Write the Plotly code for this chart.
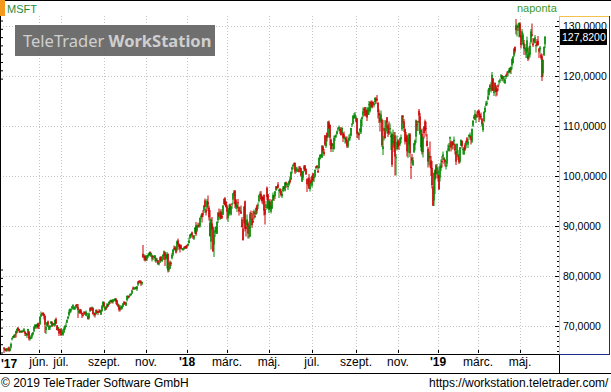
import plotly.graph_objects as go
import pandas as pd

# ---------------- data (MSFT daily, Apr 11 2017 - Jun 6 2019) ----------------
HOLIDAYS = ["2017-04-14", "2017-05-29", "2017-07-04", "2017-09-04", "2017-11-23", "2017-12-25",
            "2018-01-01", "2018-01-15", "2018-02-19", "2018-03-30", "2018-05-28", "2018-07-04",
            "2018-09-03", "2018-11-22", "2018-12-05", "2018-12-25", "2019-01-01", "2019-01-21",
            "2019-02-18", "2019-04-19", "2019-05-27"]

open_ = [
    65.6, 65.4, 65.3, 65.0, 65.3, 65.7, 65.1, 65.7, 67.4, 67.7, 68.1, 68.1, 68.9,
    68.7, 69.7, 69.4, 69.0, 68.9, 69.0, 68.9, 68.9, 68.9, 68.6, 68.1, 68.2, 68.9, 67.4, 67.5, 67.9, 68.4, 68.9, 69.8, 70.2, 69.8, 70.5,
    70.2, 70.4, 71.9, 72.3, 72.6, 72.4, 72.0, 69.2, 70.0, 70.9, 69.3, 69.7, 70.5, 70.8, 70.2, 70.5, 70.1, 71.4, 70.1, 69.2, 69.4, 68.8,
    69.3, 68.3, 68.3, 68.7, 69.5, 69.9, 70.7, 71.5, 72.2, 72.8, 73.1, 73.5, 74.0, 73.5, 73.5, 73.8, 74.3, 73.8, 72.7, 73.3,
    73.1, 72.6, 72.2, 72.4, 72.8, 72.1, 72.3, 72.0, 71.6, 73.0, 73.6, 73.3, 73.6, 72.3, 72.5, 72.4, 72.9, 72.9, 72.9, 73.1, 72.3, 73.0, 74.1,
    74.7, 73.3, 73.7, 73.7, 74.3, 74.3, 74.9, 74.9, 75.0, 74.8, 75.1, 75.2, 75.4, 75.1, 73.9, 74.1, 73.6, 73.6, 73.5, 73.9,
    74.7, 74.7, 74.1, 75.2, 75.7, 75.9, 76.1, 76.2, 76.5, 77.6, 77.4, 77.5, 77.7, 77.4, 78.3, 79.0, 79.0, 78.8, 78.5, 84.4, 83.7, 84.0,
    83.7, 83.4, 83.9, 84.2, 84.8, 84.1, 83.5, 84.0, 83.7, 83.5, 83.5, 83.1, 83.1, 82.4, 82.7, 83.8, 83.0, 83.3, 84.1, 84.7, 83.5,
    83.6, 84.4, 81.3, 81.5, 82.6, 83.6, 84.3, 85.3, 85.7, 85.4, 85.3, 87.1, 86.4, 86.2, 86.1, 85.4, 85.3, 85.4, 85.9, 86.0,
    86.1, 86.1, 86.6, 87.7, 88.1, 88.7, 87.9, 87.5, 88.7, 90.1, 89.1, 89.8, 90.1, 90.0, 91.8, 92.5, 92.5, 93.1, 95.1, 93.3, 93.8,
    94.8, 93.6, 90.6, 86.9, 90.5, 89.7, 86.3, 88.7, 88.9, 88.5, 91.2, 92.5, 91.5, 92.9, 92.0, 92.3, 94.4, 95.5, 94.8,
    93.9, 91.6, 92.3, 94.3, 92.3, 94.3, 95.3, 96.5, 97.0, 95.1, 93.5, 94.7, 93.7, 93.0, 92.9, 91.3, 89.5, 90.6, 94.9, 89.8, 90.2,
    90.5, 89.6, 87.9, 92.5, 91.5, 91.0, 92.4, 92.0, 92.4, 94.1, 94.1, 95.0, 96.2, 96.4, 95.9, 95.6, 96.2, 93.3, 93.6, 97.6, 96.3,
    93.2, 94.8, 92.9, 93.5, 95.2, 95.9, 96.0, 97.2, 97.8, 98.3, 97.0, 97.4, 97.0, 96.0, 97.0, 97.9, 97.1, 98.7, 98.3, 97.8, 98.3, 99.3,
    99.3, 101.3, 102.0, 102.3, 102.6, 101.1, 101.0, 101.1, 101.1, 101.7, 101.5, 98.9, 99.7, 101.4, 102.1, 101.4, 99.4, 98.8, 99.6, 97.4, 99.2,
    98.1, 100.5, 99.6, 99.9, 101.6, 102.0, 101.0, 101.6, 103.4, 104.1, 103.7, 105.9, 104.8, 108.1, 106.0, 108.6, 107.9, 110.7, 110.2, 107.2, 106.5,
    106.0, 105.4, 107.8, 107.9, 108.4, 109.3, 109.6, 109.4, 109.1, 108.5, 108.5, 108.3, 107.4, 107.5, 106.9, 105.9, 107.2, 107.6, 108.1, 110.2, 110.5, 111.7, 111.7,
    110.9, 111.5, 108.3, 108.4, 109.0, 108.8, 111.4, 112.1, 113.1, 113.7, 112.2, 113.1, 112.3, 114.2, 113.0, 114.8, 114.5, 114.8, 114.2,
    114.8, 115.3, 115.4, 114.6, 112.6, 111.7, 111.1, 111.2, 105.4, 109.0, 108.9, 109.0, 111.7, 110.1, 108.9, 109.3, 107.8, 108.4, 106.6, 105.7, 108.1, 103.6, 105.4,
    107.1, 106.5, 106.4, 107.4, 109.4, 111.9, 110.9, 109.4, 107.6, 108.1, 104.7, 106.4, 108.3, 101.8, 103.6, 102.2, 104.8, 106.3, 107.9, 110.3, 110.7,
    113.0, 111.9, 105.8, 108.4, 104.8, 109.8, 110.9, 109.6, 107.0, 105.4, 103.8, 103.9, 103.1, 101.6, 97.7, 95.1, 99.3, 102.1, 101.3,
    99.6, 100.1, 99.7, 101.6, 103.0, 103.9, 103.2, 103.2, 101.9, 102.5, 105.3, 105.0, 107.5, 106.8, 106.1, 106.9, 107.0, 106.3, 104.9, 104.6, 103.8,
    103.8, 102.9, 106.1, 107.0, 105.2, 104.4, 106.2, 106.1, 107.5, 106.3, 107.9, 107.8, 107.9, 106.9, 110.1, 111.8, 111.3, 111.7, 112.0,
    113.0, 113.0, 112.3, 111.9, 111.4, 109.2, 111.0, 112.8, 114.1, 114.5, 115.3, 116.2, 118.1, 117.4, 117.1, 119.5, 116.6, 118.6, 117.9, 117.4, 118.1,
    118.9, 119.1, 119.9, 120.1, 119.4, 119.8, 118.6, 119.8, 120.5, 120.6, 120.9, 121.6, 121.2, 122.2, 122.6, 124.1, 125.8, 130.1, 129.7, 129.9, 129.8,
    130.5, 128.0, 127.4, 126.4, 126.5, 125.4, 124.3, 124.9, 124.1, 123.9, 124.3, 126.8, 128.3, 126.5, 127.4, 126.6, 126.0, 126.9, 127.0, 125.4, 125.3, 124.2,
    123.9, 120.6, 124.2, 126.4,
]
high = [
    65.8, 65.5, 65.6, 65.5, 65.7, 65.9, 65.6, 66.7, 67.7, 68.0, 68.3, 68.4, 69.1,
    69.5, 69.7, 69.4, 69.1, 69.0, 69.1, 69.3, 69.6, 68.9, 68.6, 68.5, 69.4, 68.9, 68.1, 68.1, 68.5, 68.8, 69.9, 70.4, 70.2, 70.4, 70.7,
    70.6, 71.9, 72.9, 72.6, 72.8, 72.5, 72.1, 69.9, 70.8, 71.1, 70.2, 70.2, 70.9, 70.9, 70.6, 70.6, 71.3, 71.7, 70.2, 69.8, 69.5, 69.4,
    69.6, 69.4, 68.8, 69.8, 70.2, 70.7, 71.3, 72.0, 73.3, 73.5, 73.4, 74.0, 74.3, 74.0, 73.8, 74.3, 74.4, 74.4, 73.3, 73.4,
    73.4, 72.7, 72.4, 73.0, 72.9, 73.1, 72.6, 72.1, 72.7, 73.7, 73.8, 73.9, 73.7, 72.8, 72.6, 73.3, 73.3, 73.0, 73.4, 73.3, 73.2, 74.2, 75.0,
    74.8, 73.9, 74.0, 74.6, 74.4, 74.9, 75.2, 75.3, 75.2, 75.4, 75.3, 75.6, 75.6, 75.2, 74.5, 74.3, 73.8, 74.2, 74.0, 74.6,
    75.0, 74.9, 74.8, 76.1, 76.1, 76.1, 76.5, 76.5, 77.3, 77.9, 77.8, 77.7, 77.9, 78.0, 79.0, 79.1, 79.2, 79.1, 78.9, 86.2, 84.4, 84.2,
    84.1, 84.2, 84.5, 84.7, 84.9, 84.7, 84.3, 84.1, 84.1, 84.2, 83.7, 83.6, 83.2, 82.7, 83.9, 84.0, 83.4, 84.4, 85.1, 84.9, 84.5,
    84.8, 84.5, 82.7, 83.1, 82.9, 84.6, 85.4, 86.1, 86.0, 85.9, 87.1, 87.5, 86.5, 86.3, 86.3, 85.6, 85.5, 85.9, 86.0, 86.1,
    86.3, 86.5, 87.7, 88.4, 88.6, 88.9, 88.2, 88.2, 89.8, 90.8, 90.3, 90.7, 90.6, 91.7, 92.3, 92.6, 93.2, 94.1, 95.5, 93.7, 95.4,
    96.1, 94.1, 93.2, 91.5, 91.8, 89.9, 88.9, 89.8, 90.0, 90.9, 92.7, 93.5, 93.1, 93.4, 92.7, 94.1, 95.5, 95.8, 95.0,
    94.3, 93.2, 94.3, 94.5, 94.0, 94.6, 96.6, 97.2, 97.2, 95.4, 94.6, 95.4, 93.9, 93.8, 94.1, 91.8, 90.5, 94.0, 95.1, 91.2, 92.3,
    90.9, 90.1, 92.8, 93.1, 92.5, 93.0, 93.3, 92.9, 93.7, 94.3, 94.7, 96.3, 96.9, 97.0, 96.1, 95.8, 96.3, 93.3, 95.0, 97.9, 96.4,
    95.2, 95.4, 94.9, 95.3, 96.7, 96.2, 97.0, 98.0, 98.0, 98.8, 97.3, 97.6, 97.4, 96.8, 98.0, 98.0, 98.7, 98.9, 98.6, 98.7, 99.1, 99.9,
    100.9, 101.9, 102.3, 102.7, 102.7, 101.9, 101.8, 101.5, 102.0, 102.0, 101.6, 101.0, 101.0, 102.2, 102.2, 101.5, 99.5, 99.7, 100.4, 98.9, 99.8,
    100.1, 100.6, 99.9, 101.3, 102.0, 102.2, 101.9, 103.7, 104.3, 104.4, 106.2, 106.1, 105.4, 108.2, 108.1, 108.7, 111.0, 111.1, 110.3, 107.5, 106.6,
    106.5, 108.1, 108.1, 108.4, 109.1, 109.8, 110.1, 109.7, 109.8, 109.7, 108.7, 108.9, 107.9, 107.9, 107.9, 107.3, 108.3, 108.5, 109.6, 110.6, 112.2, 112.6, 112.8,
    112.0, 111.6, 108.9, 108.7, 109.6, 111.5, 111.9, 113.7, 113.7, 113.8, 113.8, 113.3, 113.8, 115.0, 114.9, 115.1, 115.1, 114.9, 114.6,
    115.7, 115.8, 116.2, 114.8, 113.3, 112.6, 113.1, 111.5, 108.0, 111.2, 109.5, 111.2, 111.8, 110.5, 110.9, 110.5, 108.9, 108.5, 109.3, 108.8, 108.8, 104.4, 108.1,
    107.3, 107.0, 107.7, 108.3, 112.2, 112.2, 111.4, 109.5, 108.8, 108.3, 107.7, 108.6, 108.6, 103.8, 104.4, 103.8, 106.6, 107.3, 111.3, 111.1, 111.0,
    113.4, 112.6, 109.3, 109.5, 107.9, 110.0, 111.3, 110.9, 108.4, 105.8, 104.9, 106.9, 104.0, 103.0, 98.0, 100.7, 101.3, 102.4, 102.4,
    101.8, 100.2, 102.5, 103.3, 104.0, 104.9, 103.8, 103.4, 102.9, 105.1, 106.3, 106.6, 107.9, 107.1, 107.0, 107.0, 107.9, 106.5, 105.0, 106.5, 105.2,
    104.1, 105.8, 107.3, 107.1, 105.6, 105.8, 106.6, 107.1, 107.8, 107.3, 108.3, 108.7, 108.0, 109.5, 111.2, 112.2, 113.2, 112.4, 112.9,
    113.2, 113.3, 112.4, 112.7, 111.6, 110.7, 112.9, 114.0, 115.0, 115.1, 117.3, 117.6, 118.4, 118.8, 120.8, 119.6, 118.0, 118.7, 118.2, 117.6, 118.3,
    119.1, 119.5, 120.4, 120.2, 120.0, 120.0, 119.5, 120.3, 120.9, 121.0, 121.6, 121.7, 121.9, 123.5, 124.0, 125.6, 125.9, 131.4, 130.5, 130.2, 130.7,
    130.7, 128.1, 129.4, 128.6, 127.2, 126.4, 125.8, 127.9, 125.6, 125.9, 126.7, 129.4, 130.5, 127.6, 127.5, 128.2, 126.3, 127.4, 128.0, 125.6, 126.0, 124.6,
    124.4, 123.3, 125.9, 128.0,
]
low = [
    64.6, 65.1, 64.9, 64.9, 65.2, 64.9, 64.9, 65.5, 67.1, 67.5, 67.6, 67.6, 67.7,
    68.5, 69.1, 68.7, 68.6, 68.6, 68.6, 68.7, 68.9, 68.0, 68.0, 67.6, 68.2, 67.1, 67.1, 67.4, 67.5, 68.1, 68.9, 69.5, 69.4, 69.6, 69.4,
    69.4, 70.2, 71.8, 72.1, 72.0, 71.3, 68.6, 68.4, 69.9, 69.8, 69.2, 69.2, 70.4, 69.9, 69.9, 70.1, 69.9, 70.4, 69.2, 69.0, 68.0, 68.7,
    68.0, 68.2, 68.0, 68.7, 69.2, 69.8, 70.6, 71.3, 71.9, 72.5, 72.7, 73.3, 73.3, 73.2, 73.2, 73.5, 73.6, 71.6, 72.5, 72.4,
    72.5, 71.6, 71.9, 72.2, 72.3, 72.0, 71.9, 71.3, 71.3, 72.8, 73.0, 73.1, 72.3, 71.9, 71.7, 72.3, 72.6, 72.2, 72.7, 72.6, 72.2, 72.9, 74.0,
    73.6, 73.0, 73.2, 73.6, 73.8, 74.2, 74.4, 74.7, 74.5, 74.5, 74.9, 75.0, 74.4, 74.1, 73.8, 72.9, 72.9, 73.2, 73.3, 73.8,
    74.3, 74.2, 74.0, 74.9, 75.4, 75.6, 75.9, 76.1, 76.4, 77.2, 77.2, 77.3, 77.3, 77.0, 78.0, 78.5, 78.5, 78.0, 78.2, 83.6, 83.1, 82.9,
    83.0, 83.0, 83.6, 84.0, 83.9, 83.8, 82.9, 83.2, 83.5, 82.9, 82.6, 82.9, 82.2, 82.1, 82.6, 83.0, 82.8, 83.2, 84.0, 82.0, 83.3,
    81.5, 80.7, 80.8, 81.4, 82.0, 83.3, 84.0, 85.0, 85.2, 84.5, 84.9, 86.2, 85.2, 84.7, 85.4, 85.2, 85.0, 85.2, 85.5, 85.4,
    85.5, 85.9, 86.5, 87.4, 87.6, 87.9, 87.4, 87.2, 88.4, 88.0, 88.8, 89.7, 89.7, 89.7, 91.5, 90.7, 91.8, 92.6, 93.7, 92.1, 93.5,
    93.0, 91.1, 87.9, 85.3, 89.2, 84.8, 83.8, 87.8, 88.4, 88.4, 90.6, 91.8, 91.2, 91.4, 91.4, 92.2, 94.3, 94.1, 93.7,
    91.3, 90.8, 92.0, 92.5, 92.1, 93.4, 94.4, 96.0, 93.6, 93.4, 92.8, 93.6, 92.1, 92.9, 92.4, 89.7, 87.1, 90.4, 88.9, 87.9, 89.9,
    87.5, 87.5, 87.8, 91.3, 89.6, 90.6, 91.3, 91.6, 92.2, 92.5, 93.4, 94.7, 95.9, 95.1, 94.5, 94.3, 92.1, 90.3, 93.2, 95.1, 93.5,
    92.6, 93.4, 92.5, 93.4, 95.1, 95.0, 95.4, 97.0, 97.3, 97.5, 95.6, 96.6, 95.9, 95.6, 96.8, 97.4, 96.9, 97.6, 97.9, 97.2, 98.0, 98.5,
    99.2, 100.5, 101.3, 101.9, 100.4, 100.6, 100.8, 100.8, 100.7, 100.9, 99.9, 98.8, 99.2, 100.8, 101.0, 100.2, 96.8, 98.0, 97.5, 96.9, 98.5,
    97.7, 98.9, 98.8, 99.7, 101.3, 101.6, 100.6, 101.5, 103.3, 103.7, 103.6, 104.7, 104.0, 106.0, 105.6, 106.9, 107.6, 109.4, 106.1, 104.8, 105.4,
    104.8, 105.3, 107.0, 107.6, 108.3, 108.9, 109.4, 108.4, 108.1, 108.3, 106.8, 107.4, 106.5, 106.5, 105.6, 105.6, 106.9, 107.1, 107.9, 109.8, 110.4, 111.4, 111.5,
    110.7, 107.6, 107.5, 107.2, 108.4, 108.4, 109.9, 111.7, 112.6, 111.9, 111.9, 111.0, 112.2, 112.2, 112.7, 113.8, 113.5, 114.0, 113.7,
    114.3, 114.4, 114.9, 111.5, 110.6, 108.9, 110.6, 105.8, 104.2, 107.1, 107.5, 108.5, 109.5, 107.8, 108.2, 108.4, 105.2, 101.8, 106.1, 104.8, 100.1, 100.1, 105.1,
    105.4, 105.2, 106.0, 106.6, 109.0, 110.5, 108.8, 106.3, 106.8, 103.9, 103.6, 106.1, 103.8, 99.4, 102.5, 102.0, 104.6, 105.1, 106.6, 109.0, 109.0,
    110.7, 108.2, 105.0, 104.3, 103.7, 107.5, 109.0, 107.9, 105.9, 101.7, 102.2, 101.7, 100.0, 97.5, 94.0, 94.0, 96.4, 99.5, 100.4,
    98.9, 97.2, 98.9, 101.0, 101.7, 103.2, 102.4, 101.9, 101.3, 101.9, 105.0, 104.9, 105.9, 104.9, 105.3, 105.3, 106.2, 104.3, 102.2, 104.3, 103.2,
    102.4, 102.6, 106.0, 105.5, 104.3, 104.2, 105.0, 105.5, 106.7, 105.6, 107.2, 107.6, 106.3, 106.6, 109.8, 111.3, 111.2, 110.6, 111.7,
    111.7, 110.8, 111.2, 111.4, 109.9, 108.8, 110.7, 112.7, 114.0, 114.1, 115.2, 116.1, 117.0, 116.7, 117.0, 117.0, 116.0, 116.9, 115.9, 116.1, 117.0,
    118.1, 118.6, 119.5, 119.0, 118.9, 118.6, 118.4, 119.4, 119.9, 119.9, 120.6, 120.5, 120.4, 121.3, 122.5, 123.8, 124.5, 128.3, 127.9, 129.0, 127.7,
    127.8, 125.5, 127.0, 126.1, 124.2, 124.9, 123.6, 123.6, 123.0, 123.3, 123.7, 126.5, 127.9, 125.8, 126.6, 126.5, 124.7, 125.9, 126.1, 123.6, 124.6, 123.3,
    119.0, 119.9, 124.0, 125.6,
]
close = [
    65.5, 65.2, 65.0, 65.5, 65.4, 65.0, 65.5, 66.4, 67.5, 67.9, 67.8, 68.3, 68.5,
    69.4, 69.3, 69.1, 68.8, 69.0, 68.9, 69.0, 69.3, 68.5, 68.4, 68.4, 69.4, 67.5, 67.7, 67.7, 68.5, 68.7, 69.8, 70.2, 70.0, 70.4, 69.8,
    70.1, 71.8, 72.3, 72.5, 72.4, 72.0, 70.3, 69.8, 70.7, 70.3, 69.9, 70.0, 70.9, 69.9, 70.3, 70.3, 71.2, 70.5, 69.2, 69.8, 68.5, 68.9,
    68.2, 69.1, 68.6, 69.5, 70.0, 70.0, 71.2, 71.8, 72.8, 73.4, 73.3, 73.9, 74.2, 73.8, 73.6, 74.2, 74.1, 73.2, 73.0, 72.7,
    72.6, 72.3, 72.1, 72.7, 72.4, 72.8, 72.5, 71.4, 72.5, 73.6, 73.2, 73.7, 72.4, 72.5, 72.2, 73.2, 72.7, 72.7, 72.8, 72.8, 73.1, 74.0, 74.8,
    73.9, 73.6, 73.4, 74.3, 74.0, 74.8, 74.8, 75.2, 74.8, 75.3, 75.2, 75.4, 74.9, 74.2, 74.4, 73.3, 73.3, 73.9, 73.9, 74.5,
    74.6, 74.3, 74.7, 76.0, 76.0, 75.8, 76.3, 76.4, 77.1, 77.5, 77.7, 77.6, 77.6, 77.9, 78.8, 78.8, 78.9, 78.6, 78.8, 83.8, 83.9, 83.2,
    83.2, 84.1, 84.1, 84.5, 84.3, 84.6, 84.1, 83.9, 83.9, 84.1, 83.0, 83.2, 82.4, 82.5, 83.7, 83.1, 83.3, 84.2, 84.9, 83.3, 84.2,
    84.3, 81.1, 81.6, 82.8, 82.5, 84.2, 85.2, 85.6, 85.4, 84.7, 86.9, 86.4, 85.8, 85.5, 85.5, 85.5, 85.4, 85.7, 85.7, 85.5,
    86.0, 86.4, 87.1, 88.2, 88.3, 88.2, 87.8, 88.1, 89.6, 88.4, 90.1, 90.1, 90.0, 91.6, 91.9, 91.8, 92.3, 94.1, 93.9, 92.7, 95.0,
    94.3, 91.8, 88.0, 91.3, 89.6, 85.0, 88.2, 89.1, 89.8, 90.8, 92.7, 92.0, 92.7, 91.5, 91.7, 94.1, 95.4, 94.2, 93.8,
    92.9, 93.1, 93.6, 93.3, 93.9, 94.4, 96.5, 96.8, 94.4, 93.9, 94.2, 94.6, 92.9, 93.1, 92.5, 89.8, 87.2, 93.8, 89.5, 89.4, 91.3,
    88.5, 89.7, 92.3, 92.4, 90.2, 90.8, 92.9, 91.9, 93.6, 93.1, 94.2, 96.1, 96.4, 95.4, 95.0, 95.4, 93.1, 92.3, 94.3, 95.8, 93.5,
    95.0, 93.5, 94.1, 95.2, 96.2, 95.8, 96.9, 97.9, 97.7, 97.7, 97.2, 97.1, 96.2, 96.4, 97.6, 97.5, 98.7, 98.3, 98.4, 98.0, 98.9, 98.8,
    100.8, 101.7, 102.2, 102.5, 100.9, 101.6, 101.1, 101.3, 100.9, 101.4, 100.1, 100.9, 100.9, 101.9, 101.1, 100.4, 98.4, 99.1, 97.5, 98.6, 98.6,
    100.0, 99.1, 99.8, 101.2, 101.9, 101.8, 100.8, 103.6, 104.2, 104.2, 106.0, 105.1, 104.4, 106.3, 108.0, 107.7, 110.8, 109.6, 107.7, 105.4, 106.1,
    106.3, 107.6, 108.0, 108.1, 108.9, 109.5, 109.7, 109.0, 108.2, 109.6, 107.7, 107.6, 107.6, 106.9, 106.0, 107.1, 107.6, 107.7, 109.6, 110.3, 112.0, 112.0, 112.3,
    111.7, 108.5, 108.7, 108.2, 109.4, 111.2, 111.7, 112.9, 113.4, 112.1, 113.2, 111.7, 113.6, 114.3, 114.7, 114.5, 113.7, 114.4, 114.4,
    115.6, 115.2, 115.2, 112.8, 112.1, 110.9, 112.3, 106.2, 105.9, 109.6, 107.6, 111.0, 110.7, 108.5, 108.7, 109.6, 108.1, 102.3, 108.3, 107.0, 103.9, 103.7, 106.8,
    105.9, 106.2, 107.5, 107.7, 112.0, 111.8, 109.6, 106.9, 106.9, 105.0, 107.3, 108.3, 104.6, 101.7, 103.1, 103.1, 106.5, 107.1, 111.1, 110.2, 110.9,
    112.1, 108.5, 109.2, 104.8, 107.6, 108.6, 109.1, 109.5, 106.0, 102.9, 104.0, 103.7, 101.5, 98.2, 94.1, 100.6, 101.2, 100.4, 101.6,
    101.1, 97.4, 101.9, 102.1, 102.8, 104.3, 103.6, 102.8, 102.1, 105.0, 105.4, 106.1, 107.7, 105.7, 106.7, 106.2, 107.2, 105.1, 102.9, 106.4, 104.4,
    102.8, 105.7, 107.2, 106.0, 105.3, 105.7, 105.3, 106.9, 106.8, 106.9, 108.2, 108.2, 107.2, 109.4, 111.0, 111.6, 112.4, 112.2, 112.0,
    112.5, 112.3, 111.7, 111.8, 110.4, 110.5, 112.8, 113.6, 114.5, 114.6, 115.9, 117.6, 117.7, 117.5, 120.2, 117.1, 117.7, 117.9, 116.8, 116.9, 117.9,
    119.0, 119.2, 120.0, 119.4, 119.9, 119.9, 119.3, 120.2, 120.3, 121.0, 121.1, 120.8, 121.8, 123.4, 123.8, 125.4, 125.0, 129.2, 129.9, 129.8, 130.6,
    127.9, 126.2, 128.9, 128.2, 125.5, 125.5, 125.5, 127.1, 123.4, 124.7, 126.0, 128.9, 128.1, 126.2, 126.9, 127.7, 126.2, 126.2, 126.2, 124.9, 125.7, 123.7,
    119.8, 123.2, 125.8, 127.8,
]
LAST_PRICE = 127.82

TICK_MONTHS = ["2017-06", "2017-07", "2017-09", "2017-11", "2018-01", "2018-03", "2018-05",
               "2018-07", "2018-09", "2018-11", "2019-01", "2019-03", "2019-05"]
TICK_TEXT = ["jún.", "júl.", "szept.", "nov.", "<b>'18</b>", "márc.", "máj.",
             "júl.", "szept.", "nov.", "<b>'19</b>", "márc.", "máj."]

# ---------------- build ----------------
dates = pd.bdate_range("2017-04-11", "2019-06-06")
dates = dates[~dates.isin(pd.to_datetime(HOLIDAYS))]
n = len(close)
assert len(dates) == n == len(open_) == len(high) == len(low), (len(dates), len(open_), len(high), len(low), n)
idx = list(range(n))
months = list(dates.strftime("%Y-%m"))
tickvals = [months.index(m) for m in TICK_MONTHS]

W, H = 611, 392
def X(px):
    return px / W
def Y(py):
    return 1 - py / H

GREEN = "#008A00"
RED = "#CC0000"
GRID = "#C4C4C4"
FONT = "Liberation Sans"

fig = go.Figure()
fig.add_trace(go.Candlestick(
    x=idx, open=open_, high=high, low=low, close=close,
    increasing=dict(line=dict(color=GREEN, width=1), fillcolor=GREEN),
    decreasing=dict(line=dict(color=RED, width=1), fillcolor=RED),
    whiskerwidth=0, hoverinfo="skip", showlegend=False,
))

yr = [64.6, 132.0]
fig.update_layout(
    width=W, height=H, autosize=False,
    margin=dict(l=0, r=0, t=0, b=0),
    paper_bgcolor="white", plot_bgcolor="white",
    separators=",.",
    hovermode=False, showlegend=False,
    font=dict(family=FONT, size=11, color="black"),
    xaxis=dict(
        domain=[0, X(559)], range=[-4, 555],
        tickmode="array", tickvals=tickvals, ticktext=TICK_TEXT,
        ticks="inside", ticklen=3, tickcolor="black",
        showgrid=True, gridcolor=GRID, griddash="1px,2px", gridwidth=1,
        showline=False, zeroline=False,
        tickfont=dict(family=FONT, size=12, color="black"),
        rangeslider=dict(visible=False), fixedrange=True,
    ),
    yaxis=dict(
        domain=[Y(353), Y(16)], range=yr, side="right",
        tick0=0, dtick=10, tickformat=".4f",
        ticks="inside", ticklen=4, tickcolor="black",
        minor=dict(dtick=1, ticks="inside", ticklen=2, tickcolor="black", showgrid=False),
        showgrid=True, gridcolor=GRID, griddash="1px,2px", gridwidth=1,
        zeroline=False, showline=False,
        tickfont=dict(family=FONT, size=10.5, color="black"),
        ticklabelstandoff=3, fixedrange=True,
    ),
    yaxis2=dict(
        overlaying="y", range=yr, side="left",
        tickmode="array", tickvals=[65, 75, 85, 95, 105, 115, 125],
        showticklabels=False, ticks="",
        showgrid=True, gridcolor=GRID, griddash="4px,11px", gridwidth=1,
        zeroline=False, showline=False, fixedrange=True,
    ),
)

shapes = []
def line(x0, y0, x1, y1, color="black", width=1):
    shapes.append(dict(type="line", xref="paper", yref="paper",
                       x0=X(x0), y0=Y(y0), x1=X(x1), y1=Y(y1),
                       line=dict(color=color, width=width)))
def rect(x0, y0, x1, y1, fill):
    shapes.append(dict(type="rect", xref="paper", yref="paper",
                       x0=X(x0), y0=Y(y0), x1=X(x1), y1=Y(y1),
                       fillcolor=fill, line=dict(width=0)))

line(0, 0.5, 611, 0.5)                      # top border
rect(0, 0, 5, 16, "#F39A1E")                # orange marker
line(0.5, 16, 0.5, 355)                     # left border
for k in range(8):                          # small ticks on the left edge
    line(0, 21 + 8.3 * k, 3, 21 + 8.3 * k)
for k in range(11):
    line(0, 270 + 8.3 * k, 3, 270 + 8.3 * k)
line(0, 354.5, 559, 354.5)                  # time axis line
line(0, 373.5, 611, 373.5)                  # line under dates
line(559.5, 355, 559.5, 374)                # separator in date row
line(559.5, 16, 559.5, 354, "#F2C14E")      # right panel: yellow left
line(559, 16.5, 609, 16.5, "#F2C14E")       # right panel: yellow top
line(609.5, 16, 609.5, 355, "#1C2A8C")      # right panel: navy right
line(559, 354.5, 610, 354.5, "#1C2A8C")     # right panel: navy bottom
rect(15, 25, 215, 56, "rgba(100,100,100,0.93)")   # logo box
rect(560, 29, 607, 45, "black")             # last price box
fig.update_layout(shapes=shapes)

ann = []
def text(x, y, s, size=11, color="black", anchor="left", family=FONT):
    ann.append(dict(xref="paper", yref="paper", x=X(x), y=Y(y), text=s, showarrow=False,
                    xanchor=anchor, yanchor="middle", borderpad=0,
                    font=dict(family=family, size=size, color=color)))

text(6, 9, "MSFT", 11, "#1E8C3A")
text(516, 8, "naponta", 11, "#3C9A1E")
text(22, 40.5, "TeleTrader <b>WorkStation</b>", 16.5, "#CFCFCF", family="Noto Sans")
text(583.5, 37, f"{LAST_PRICE:.4f}".replace(".", ","), 10.5, "white", anchor="center")
text(0, 363.5, "<b>'17</b>", 12)
text(0, 383, "© 2019 TeleTrader Software GmbH", 12)
text(610, 383, "https://workstation.teletrader.com/", 12, anchor="right")
fig.update_layout(annotations=ann)

fig.write_html("out.html", config={"displayModeBar": False, "staticPlot": True},
               post_script="document.body.style.margin='0px';document.body.style.padding='0px';")
